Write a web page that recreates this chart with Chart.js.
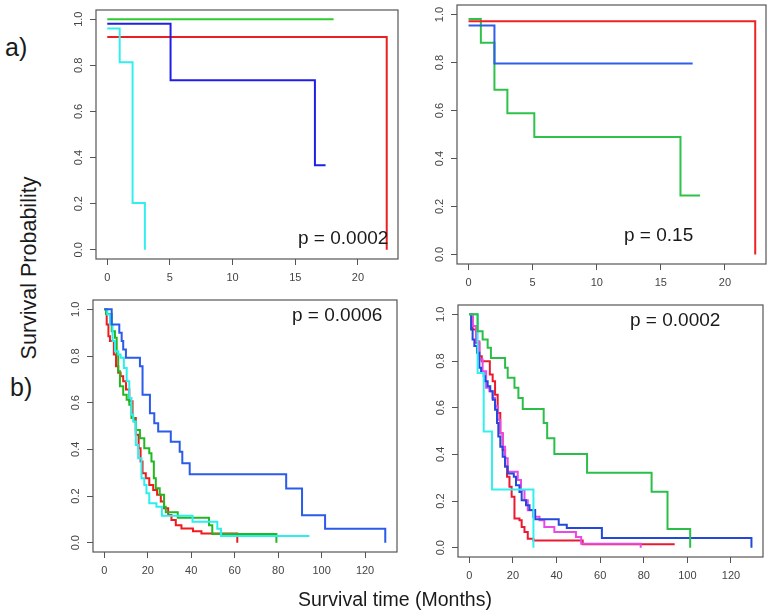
<!DOCTYPE html>
<html>
<head>
<meta charset="utf-8">
<script src="https://cdn.jsdelivr.net/npm/chart.js@4.4.0/dist/chart.umd.min.js"></script>
<style>
  html, body { margin: 0; padding: 0; background: #fff; }
  #page { position: relative; width: 776px; height: 614px; overflow: hidden;
          font-family: "Liberation Sans", Arial, sans-serif; color: #1a1a1a; }
  canvas { position: absolute; }
  .txt { position: absolute; line-height: 1; white-space: nowrap; }
</style>
</head>
<body>
<div id="page">
  <canvas id="a1"></canvas>
  <canvas id="a2"></canvas>
  <canvas id="b1"></canvas>
  <canvas id="b2"></canvas>

  <div class="txt" style="left:5px;top:35px;font-size:25px">a)</div>
  <div class="txt" style="left:10px;top:375px;font-size:25px">b)</div>
  <div class="txt" style="left:30px;top:268px;font-size:21.5px;transform:translate(-50%,-50%) rotate(-90deg)">Survival Probability</div>
  <div class="txt" style="left:298px;top:590px;font-size:19.5px">Survival time (Months)</div>

  <div class="txt" style="left:298px;top:228px;font-size:19px">p = 0.0002</div>
  <div class="txt" style="left:624px;top:225px;font-size:19px">p = 0.15</div>
  <div class="txt" style="left:292px;top:305px;font-size:19px">p = 0.0006</div>
  <div class="txt" style="left:630px;top:310px;font-size:19px">p = 0.0002</div>
</div>
<script>
// tick values / labels
const aTicks = [0, 5, 10, 15, 20];
const bTicks = [0, 20, 40, 60, 80, 100, 120];
const yTicks = [0, 0.2, 0.4, 0.6, 0.8, 1.0];
const yTickLabels = ['0.0', '0.2', '0.4', '0.6', '0.8', '1.0'];

// a) left panel: time (months) and survival at each step
const a1GreenT = [0, 18.06];
const a1GreenS = [1.0, 1.0];
const a1BlueT = [0, 5.05, 16.57, 17.42];
const a1BlueS = [0.98, 0.735, 0.367, 0.367];
const a1CyanT = [0, 0.99, 2.02, 3.0];
const a1CyanS = [0.96, 0.813, 0.203, 0];
const a1RedT = [0, 22.3];
const a1RedS = [0.923, 0];

// a) right panel
const a2RedT = [0, 22.36];
const a2RedS = [0.972, 0];
const a2BlueT = [0, 2.02, 17.48];
const a2BlueS = [0.954, 0.796, 0.796];
const a2GreenT = [0, 0.96, 2.02, 3.03, 5.13, 16.53, 18.06];
const a2GreenS = [0.982, 0.883, 0.687, 0.589, 0.49, 0.246, 0.246];

// b) left panel
const b1BlueT = [0, 3.4, 6.9, 8.0, 8.7, 9.95, 16.4, 17.6, 21, 23, 24.8, 30.6, 34.7, 35.9, 39.3, 83.7, 91, 101.6, 129.3];
const b1BlueS = [1.0, 0.935, 0.90, 0.864, 0.828, 0.792, 0.756, 0.634, 0.555, 0.512, 0.476, 0.433, 0.39, 0.34, 0.293, 0.232, 0.118, 0.06, 0];
const b1RedT = [0, 1.1, 1.9, 2.6, 4.4, 5.4, 6.4, 7.5, 8.7, 10.0, 11.5, 13.0, 14.5, 15.8, 16.7, 17.6, 19.1, 20.7, 22.5, 24.3, 26.0, 27.5, 29.4, 30.9, 32.9, 35.5, 40.8, 44.7, 61.2];
const b1RedS = [1.0, 0.935, 0.885, 0.864, 0.806, 0.756, 0.728, 0.713, 0.692, 0.656, 0.606, 0.534, 0.462, 0.405, 0.348, 0.298, 0.276, 0.247, 0.226, 0.205, 0.176, 0.147, 0.119, 0.097, 0.075, 0.061, 0.049, 0.039, 0];
const b1GreenT = [0, 0.8, 3.4, 4.9, 5.7, 6.4, 7.2, 8.7, 10.3, 11.5, 12.5, 13.8, 14.5, 16.4, 18.4, 20.7, 21.7, 22.8, 23.7, 25.5, 27.5, 28.3, 33.8, 48.2, 49.7, 79.2];
const b1GreenS = [1.0, 0.98, 0.906, 0.878, 0.806, 0.735, 0.670, 0.634, 0.613, 0.591, 0.534, 0.519, 0.483, 0.447, 0.405, 0.383, 0.348, 0.276, 0.233, 0.205, 0.154, 0.13, 0.107, 0.075, 0.037, 0];
const b1CyanT = [0, 1.4, 2.6, 3.8, 4.9, 6.4, 7.5, 9.0, 10.3, 11.5, 12.5, 13.3, 14.5, 15.6, 17.1, 18.4, 19.4, 20.7, 24.0, 26.5, 40.6, 52.0, 53.7, 94.4];
const b1CyanS = [1.0, 0.978, 0.935, 0.864, 0.82, 0.806, 0.792, 0.749, 0.692, 0.62, 0.548, 0.519, 0.419, 0.362, 0.276, 0.247, 0.212, 0.169, 0.154, 0.115, 0.09, 0.06, 0.029, 0.029];

// b) right panel
const b2GreenT = [0, 3.8, 6.1, 8.4, 9.9, 16.4, 17.6, 20.7, 22.5, 24.5, 34.1, 35.7, 39.0, 54.0, 83.6, 90.9, 101.3];
const b2GreenS = [1.0, 0.928, 0.892, 0.857, 0.813, 0.771, 0.728, 0.685, 0.641, 0.594, 0.534, 0.469, 0.401, 0.321, 0.24, 0.08, 0];
const b2CyanT = [0, 3.8, 6.6, 10.4, 29.4];
const b2CyanS = [1.0, 0.749, 0.498, 0.249, 0];
const b2RedT = [0, 1.5, 3.1, 4.6, 5.7, 9.4, 10.7, 11.8, 13.0, 14.2, 15.3, 16.4, 17.3, 18.4, 19.4, 20.7, 23.0, 24.0, 25.3, 26.8, 29.4, 52.0, 94.2];
const b2RedS = [1.0, 0.935, 0.878, 0.82, 0.799, 0.742, 0.713, 0.655, 0.577, 0.49, 0.419, 0.348, 0.304, 0.261, 0.218, 0.125, 0.118, 0.089, 0.067, 0.038, 0.031, 0.015, 0.015];
const b2BlueT = [0, 0.8, 1.5, 2.3, 3.5, 4.6, 5.4, 6.6, 7.2, 8.4, 9.6, 10.7, 11.8, 12.7, 13.3, 14.2, 15.3, 16.4, 17.6, 20.4, 21.4, 23.0, 24.0, 26.0, 27.6, 30.2, 41.0, 44.7, 60.8, 129.4];
const b2BlueS = [1.0, 0.935, 0.892, 0.864, 0.835, 0.771, 0.749, 0.735, 0.713, 0.692, 0.670, 0.634, 0.591, 0.534, 0.476, 0.433, 0.39, 0.348, 0.318, 0.304, 0.268, 0.239, 0.203, 0.182, 0.161, 0.122, 0.098, 0.084, 0.041, 0];
const b2MagentaT = [0, 1.5, 3.1, 4.6, 6.1, 7.7, 9.2, 10.7, 11.8, 13.0, 14.2, 15.3, 16.4, 17.6, 22.2, 23.7, 25.3, 26.8, 29.2, 32.2, 34.4, 39.0, 48.9, 51.3, 78.6];
const b2MagentaS = [1.0, 0.95, 0.885, 0.806, 0.756, 0.685, 0.670, 0.641, 0.606, 0.548, 0.49, 0.433, 0.383, 0.325, 0.29, 0.247, 0.203, 0.16, 0.132, 0.118, 0.089, 0.067, 0.046, 0.017, 0];

const tickFont = '"Liberation Sans", Arial, sans-serif';

// R-style frame around the plot plus rotated y tick labels
const rBox = {
  id: 'rBox',
  afterDraw(chart) {
    const { ctx, chartArea: a } = chart;
    ctx.save();
    ctx.strokeStyle = '#555';
    ctx.lineWidth = 1.2;
    ctx.strokeRect(a.left, a.top, a.right - a.left, a.bottom - a.top);
    const ys = chart.scales.y;
    ctx.fillStyle = '#444';
    ctx.font = '11px ' + tickFont;
    ctx.textAlign = 'center';
    ctx.textBaseline = 'middle';
    yTicks.forEach((v, i) => {
      ctx.save();
      ctx.translate(a.left - 17, ys.getPixelForValue(v));
      ctx.rotate(-Math.PI / 2);
      ctx.fillText(yTickLabels[i], 0, 0);
      ctx.restore();
    });
    ctx.restore();
  }
};

function curve(times, surv, color) {
  return {
    data: times.map((t, i) => ({ x: t, y: surv[i] })),
    borderColor: color,
    borderWidth: 2,
    stepped: 'before',
    pointRadius: 0,
    fill: false,
    tension: 0
  };
}

function makePanel(id, box, xMin, xMax, xTicks, datasets) {
  const padL = 45, padT = 6, padR = 6, padB = 34;
  const cv = document.getElementById(id);
  const w = box.r - box.l + padL + padR;
  const h = box.b - box.t + padT + padB;
  cv.width = w; cv.height = h;
  cv.style.width = w + 'px'; cv.style.height = h + 'px';
  cv.style.left = (box.l - padL) + 'px';
  cv.style.top = (box.t - padT) + 'px';

  return new Chart(cv, {
    type: 'line',
    data: { datasets: datasets },
    options: {
      responsive: false,
      animation: false,
      devicePixelRatio: 1,
      events: [],
      layout: { padding: { left: 0, top: padT, right: padR, bottom: 0 } },
      plugins: { legend: { display: false }, tooltip: { enabled: false } },
      scales: {
        x: {
          type: 'linear', min: xMin, max: xMax,
          afterBuildTicks: s => { s.ticks = xTicks.map(v => ({ value: v })); },
          afterFit: s => { s.height = padB; },
          grid: { display: true, drawOnChartArea: false, drawTicks: true, tickLength: 6, color: '#555' },
          border: { display: false },
          ticks: { color: '#444', font: { size: 11, family: tickFont }, padding: 6, maxRotation: 0, autoSkip: false }
        },
        y: {
          type: 'linear', min: -0.04, max: 1.04,
          afterBuildTicks: s => { s.ticks = yTicks.map(v => ({ value: v })); },
          afterFit: s => { s.width = padL; },
          grid: { display: true, drawOnChartArea: false, drawTicks: true, tickLength: 6, color: '#555' },
          border: { display: false },
          ticks: { display: false }
        }
      }
    },
    plugins: [rBox]
  });
}

makePanel('a1', { l: 96, t: 10, r: 398, b: 259 }, -0.9, 23.2, aTicks, [
  curve(a1GreenT, a1GreenS, '#2ecc2e'),
  curve(a1BlueT, a1BlueS, '#1f1fe6'),
  curve(a1CyanT, a1CyanS, '#33eeee'),
  curve(a1RedT, a1RedS, '#e82020')
]);

makePanel('a2', { l: 457, t: 5, r: 766, b: 264 }, -0.9, 23.2, aTicks, [
  curve(a2RedT, a2RedS, '#ee2222'),
  curve(a2BlueT, a2BlueS, '#2f5fe8'),
  curve(a2GreenT, a2GreenS, '#2fc24a')
]);

makePanel('b1', { l: 93, t: 300, r: 397, b: 552 }, -5.2, 134.7, bTicks, [
  curve(b1BlueT, b1BlueS, '#2a5bea'),
  curve(b1CyanT, b1CyanS, '#2ceeee'),
  curve(b1GreenT, b1GreenS, '#22b822'),
  curve(b1RedT, b1RedS, '#ee1c1c')
]);

makePanel('b2', { l: 458, t: 305, r: 763, b: 557 }, -5.2, 134.7, bTicks, [
  curve(b2GreenT, b2GreenS, '#2bbf4a'),
  curve(b2CyanT, b2CyanS, '#33f0f0'),
  curve(b2BlueT, b2BlueS, '#2448dc'),
  curve(b2MagentaT, b2MagentaS, '#e84ae8'),
  curve(b2RedT, b2RedS, '#ea1a30')
]);
</script>
</body>
</html>
